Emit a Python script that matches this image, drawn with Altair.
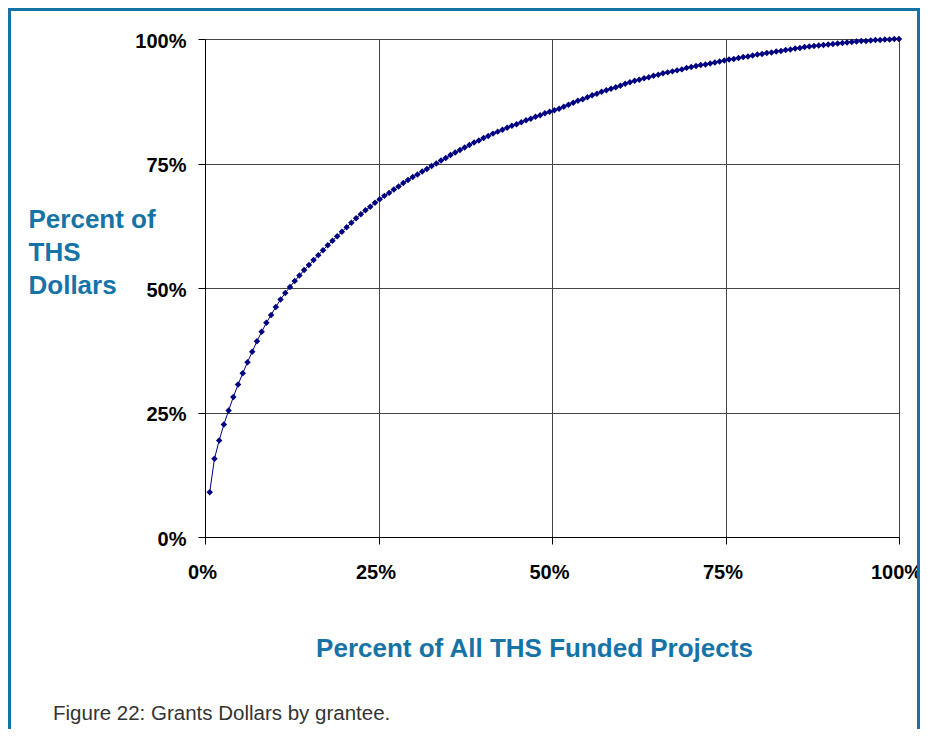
import altair as alt
import pandas as pd

# Cumulative share of THS dollars, one value per funded project (sorted largest first)
cum_dollar_share = [
    0.090, 0.157, 0.194, 0.226, 0.254, 0.281, 0.306, 0.329, 0.351, 0.372,
    0.393, 0.412, 0.430, 0.446, 0.462, 0.477, 0.490, 0.502, 0.514, 0.525,
    0.536, 0.546, 0.556, 0.566, 0.576, 0.586, 0.595, 0.604, 0.613, 0.622,
    0.631, 0.640, 0.648, 0.656, 0.663, 0.671, 0.678, 0.685, 0.691, 0.698,
    0.704, 0.711, 0.717, 0.723, 0.728, 0.734, 0.739, 0.745, 0.750, 0.756,
    0.761, 0.767, 0.772, 0.777, 0.782, 0.787, 0.792, 0.796, 0.801, 0.805,
    0.810, 0.814, 0.818, 0.822, 0.826, 0.829, 0.833, 0.837, 0.840, 0.844,
    0.847, 0.851, 0.854, 0.857, 0.860, 0.864, 0.868, 0.872, 0.876, 0.879,
    0.883, 0.887, 0.890, 0.894, 0.897, 0.900, 0.903, 0.906, 0.910, 0.913,
    0.916, 0.918, 0.921, 0.923, 0.926, 0.928, 0.931, 0.933, 0.935, 0.937,
    0.939, 0.942, 0.944, 0.946, 0.948, 0.949, 0.951, 0.953, 0.955, 0.957,
    0.959, 0.960, 0.962, 0.964, 0.965, 0.967, 0.969, 0.970, 0.972, 0.973,
    0.975, 0.976, 0.978, 0.979, 0.981, 0.982, 0.984, 0.985, 0.986, 0.987,
    0.988, 0.989, 0.990, 0.991, 0.992, 0.993, 0.994, 0.995, 0.996, 0.996,
    0.997, 0.998, 0.998, 0.999, 0.999, 1.000, 1.000,
]
n_projects = len(cum_dollar_share)
project_share = [(i + 1) / n_projects for i in range(n_projects)]

tick_values = [0, 0.25, 0.5, 0.75, 1.0]
x_title = "Percent of All THS Funded Projects"
y_title = ["Percent of", "THS", "Dollars"]
caption = "Figure 22: Grants Dollars by grantee."

BLUE = "#1673a6"
NAVY = "#000080"
FONT = "Liberation Sans"

df = pd.DataFrame({"projects": project_share, "dollars": cum_dollar_share})

W, H = 694, 498
PAD_L, PAD_T, PAD_R, PAD_B = 197, 31, 21, 192

curve = alt.Chart(df).mark_line(
    color=NAVY,
    strokeWidth=1,
    point=alt.OverlayMarkDef(shape="diamond", size=42, filled=True, color=NAVY),
).encode(
    x=alt.X(
        "projects:Q",
        scale=alt.Scale(domain=[0, 1], nice=False, zero=True),
        axis=alt.Axis(
            values=tick_values, format=".0%", title=x_title,
            titleFont=FONT, titleFontSize=26, titleFontWeight="bold", titleColor=BLUE,
            titleX=329, titleY=119, titleBaseline="alphabetic", titleAlign="center",
            titleAnchor="start",
            labelFont=FONT, labelFontSize=20, labelFontWeight="bold", labelColor="black",
            labelPadding=18, labelOffset=-3, labelFlush=False,
            tickSize=7, tickColor="black", domainColor="black",
            grid=True, gridColor="#444444", gridWidth=1,
        ),
    ),
    y=alt.Y(
        "dollars:Q",
        scale=alt.Scale(domain=[0, 1], nice=False, zero=True),
        axis=alt.Axis(
            values=tick_values, format=".0%", title=y_title,
            titleFont=FONT, titleFontSize=26, titleFontWeight="bold", titleColor=BLUE,
            titleAngle=0, titleAlign="left", titleBaseline="alphabetic",
            titleX=-177, titleY=188, titleLineHeight=33, titleAnchor="start",
            labelFont=FONT, labelFontSize=20, labelFontWeight="bold", labelColor="black",
            labelPadding=12, labelBaseline="middle", labelOffset=2, labelFlush=False,
            tickSize=7, tickColor="black", domainColor="black",
            grid=True, gridColor="#444444", gridWidth=1,
        ),
    ),
)

one = pd.DataFrame({"k": [0]})
frame_right_x = W + PAD_R - 1.5

frame_left = alt.Chart(one).mark_rule(color=BLUE, strokeWidth=3).encode(
    x=alt.value(-195.5), y=alt.value(-29.5), y2=alt.value(720)
)
frame_top = alt.Chart(one).mark_rule(color=BLUE, strokeWidth=3).encode(
    x=alt.value(-197), x2=alt.value(W + PAD_R), y=alt.value(-29.5)
)
frame_right = alt.Chart(one).mark_rule(color=BLUE, strokeWidth=3).encode(
    x=alt.value(frame_right_x), y=alt.value(-29.5), y2=alt.value(720)
)

cap = alt.Chart(pd.DataFrame({"t": [caption]})).mark_text(
    font=FONT, fontSize=20.5, color="#333333", align="left", baseline="alphabetic"
).encode(x=alt.value(-152), y=alt.value(681), text="t:N")

chart = alt.layer(curve, frame_left, frame_top, frame_right, cap).properties(
    width=W, height=H,
    autosize=alt.AutoSizeParams(type="none"),
    padding={"left": PAD_L, "top": PAD_T, "right": PAD_R, "bottom": PAD_B},
    background="white",
).configure_view(stroke=None)

chart.save("out.html", embed_options={"renderer": "svg", "actions": False})
